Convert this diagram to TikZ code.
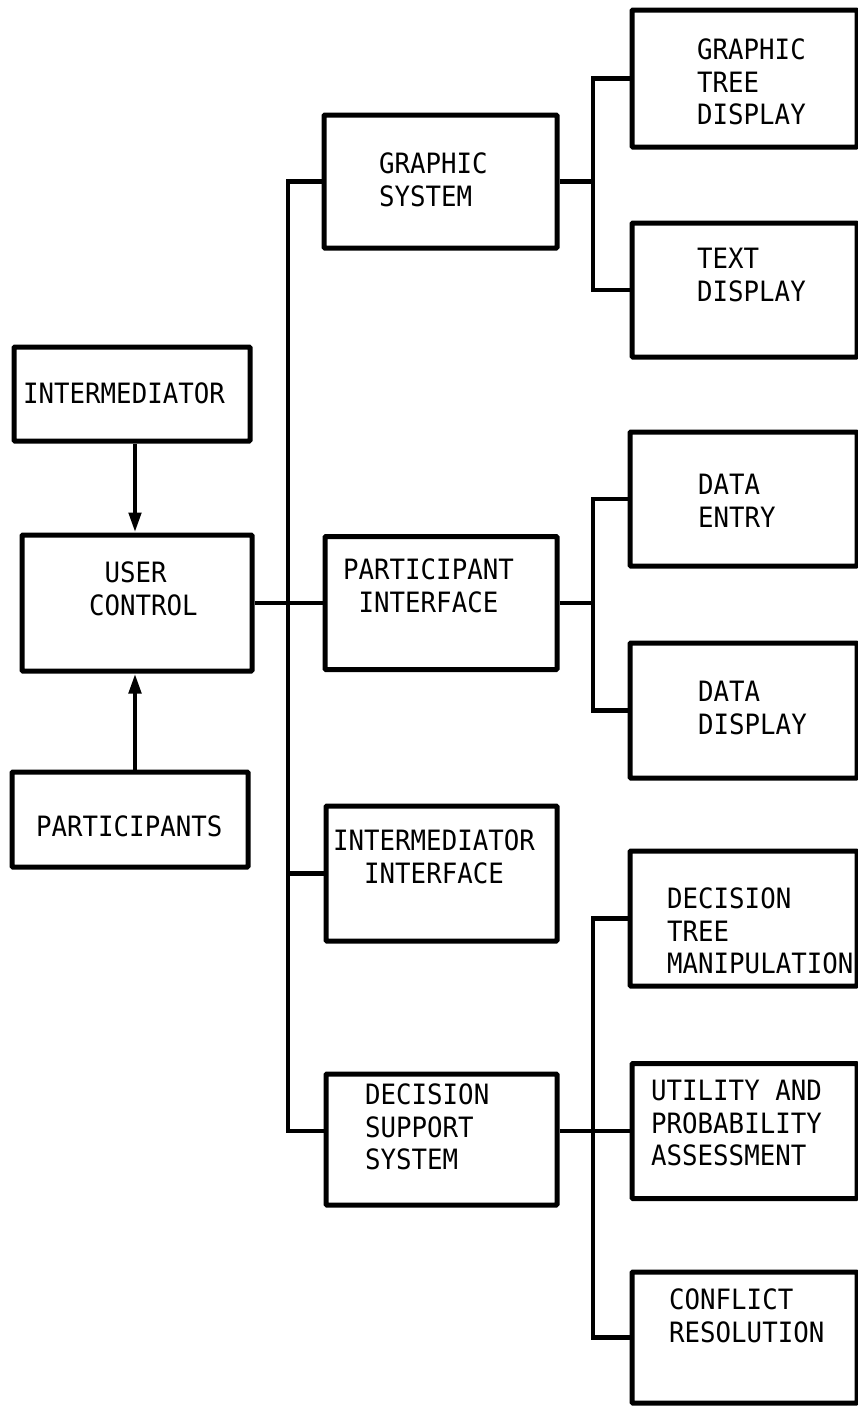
\documentclass[tikz,border=0pt]{standalone}
\usepackage{fontspec}
\usetikzlibrary{arrows.meta}
\newfontfamily\typefont{DejaVu Sans Mono}[FakeStretch=0.92]
\begin{document}
\begin{tikzpicture}[x=1pt,y=-1pt]
\tikzset{
  box/.style={draw, line width=5pt, rounded corners=1pt, inner sep=0pt},
  lbl/.style={anchor=north west, inner sep=0pt, align=left, font=\typefont\fontsize{28}{32.5}\selectfont},
  conn/.style={line width=4.5pt},
  arr/.style={line width=4.5pt, -{Triangle[length=20pt,width=12pt]}},
}
\useasboundingbox[fill=white] (0,0) rectangle (858,1406);

% left column
\node[box, minimum width=236pt, minimum height=94pt]  (int) at (132,394) {};
\node[box, minimum width=230pt, minimum height=136pt] (uc)  at (137,603) {};
\node[box, minimum width=236pt, minimum height=95pt]  (par) at (130,819.5) {};

% middle column
\node[box, minimum width=233pt, minimum height=133pt] (gs)  at (440.5,181.5) {};
\node[box, minimum width=232pt, minimum height=133pt] (pi)  at (441,603) {};
\node[box, minimum width=231pt, minimum height=135pt] (ii)  at (441.5,873.5) {};
\node[box, minimum width=231pt, minimum height=131pt] (dss) at (441.5,1139.5) {};

% right column
\node[box, minimum width=225pt, minimum height=137pt] (gtd) at (744.5,78.5) {};
\node[box, minimum width=225pt, minimum height=134pt] (td)  at (744.5,290) {};
\node[box, minimum width=227pt, minimum height=134pt] (de)  at (743.5,499) {};
\node[box, minimum width=227pt, minimum height=135pt] (dd)  at (743.5,710.5) {};
\node[box, minimum width=227pt, minimum height=135pt] (dtm) at (743.5,918.5) {};
\node[box, minimum width=225pt, minimum height=135pt] (upa) at (744.5,1131) {};
\node[box, minimum width=225pt, minimum height=131pt] (cr)  at (744.5,1337.5) {};

% labels
\node[lbl] (int-t) at (23,383) {INTERMEDIATOR};
\node[lbl] (uc-t)  at (89,562) {\hphantom{C}USER\\CONTROL};
\node[lbl] (par-t) at (36,816) {PARTICIPANTS};
\node[lbl] (gs-t)  at (379,153) {GRAPHIC\\SYSTEM};
\node[lbl] (pi-t)  at (343,559) {PARTICIPANT\\\hphantom{I}INTERFACE};
\node[lbl] (ii-t)  at (333,830) {INTERMEDIATOR\\\hphantom{IN}INTERFACE};
\node[lbl] (dss-t) at (365,1084) {DECISION\\SUPPORT\\SYSTEM};
\node[lbl] (gtd-t) at (697,39) {GRAPHIC\\TREE\\DISPLAY};
\node[lbl] (td-t)  at (697,248) {TEXT\\DISPLAY};
\node[lbl] (de-t)  at (698,474) {DATA\\ENTRY};
\node[lbl] (dd-t)  at (698,681) {DATA\\DISPLAY};
\node[lbl] (dtm-t) at (667,888) {DECISION\\TREE\\MANIPULATION};
\node[lbl] (upa-t) at (651,1080) {UTILITY\hphantom{X}AND\\PROBABILITY\\ASSESSMENT};
\node[lbl] (cr-t)  at (669,1289) {CONFLICT\\RESOLUTION};

% helper coordinates
\coordinate (busx) at (288,0);
\coordinate (brx) at (593,0);
\coordinate (arx) at (135,0);

% arrows into user control
\draw[arr] (arx |- int.south) -- (arx |- uc.north);
\draw[arr] (arx |- par.north) -- (arx |- uc.south);

% main bus
\draw[conn] (uc.east) -- (pi.west);
\draw[conn] (gs.west) -| (busx |- upa.west) -- (dss.west |- upa.west);
\draw[conn] (busx |- ii.west) -- (ii.west);

% graphic system branch
\draw[conn] (gs.east) -- (brx |- gs.east);
\draw[conn] (gtd.west) -- (brx |- gtd.west) -- (brx |- td.west) -- (td.west);

% participant interface branch
\draw[conn] (pi.east) -- (brx |- pi.east);
\draw[conn] (de.west) -- (brx |- de.west) -- (brx |- dd.west) -- (dd.west);

% decision support branch
\draw[conn] (dss.east |- upa.west) -- (upa.west);
\draw[conn] (dtm.west) -- (brx |- dtm.west) -- (brx |- cr.west) -- (cr.west);
\end{tikzpicture}
\end{document}
